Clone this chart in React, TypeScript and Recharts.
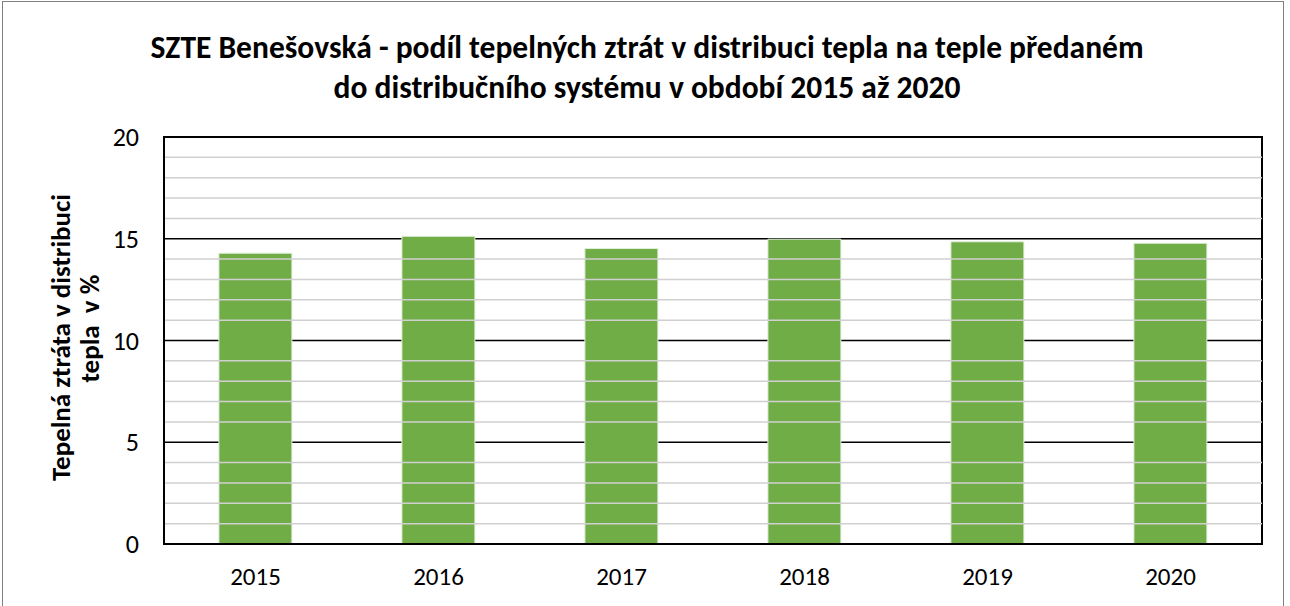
import React from 'react';
import { BarChart, Bar, XAxis, YAxis, CartesianGrid, ReferenceLine, ReferenceArea, Label } from 'recharts';

const years = ['2015', '2016', '2017', '2018', '2019', '2020'];
const lossPct = [14.29, 15.12, 14.52, 14.98, 14.85, 14.78];
const majorTicks = [0, 5, 10, 15, 20];
const minorTicks = [1, 2, 3, 4, 6, 7, 8, 9, 11, 12, 13, 14, 16, 17, 18, 19];
const titleLines = [
  'SZTE Benešovská - podíl tepelných ztrát v distribuci tepla na teple předaném',
  'do distribučního systému v období 2015 až 2020',
];
const yLabelLines = ['Tepelná ztráta v distribuci', 'tepla  v %'];

const data = years.map((y, i) => ({ year: y, value: lossPct[i] }));

const FONT = 'Carlito, Calibri, Lato, "Open Sans", sans-serif';

const YLabel = (props: any) => {
  const vb = props.viewBox || {};
  const cy = (vb.y ?? 137) + (vb.height ?? 407) / 2;
  return (
    <g>
      <text
        x={60}
        y={cy - 3}
        transform={`rotate(-90, 60, ${cy - 3})`}
        textAnchor="middle"
        dominantBaseline="central"
        fontFamily={FONT}
        fontWeight="bold"
        fontSize={27}
        fill="#000"
      >
        {yLabelLines[0]}
      </text>
      <text
        x={89}
        y={cy - 12}
        transform={`rotate(-90, 89, ${cy - 12})`}
        textAnchor="middle"
        dominantBaseline="central"
        fontFamily={FONT}
        fontWeight="bold"
        fontSize={27}
        fill="#000"
        style={{ whiteSpace: 'pre' }}
      >
        {yLabelLines[1]}
      </text>
    </g>
  );
};

export default function App() {
  return (
    <div style={{ position: 'absolute', left: 0, top: 0, width: 1290, height: 606, background: '#fff', fontFamily: FONT }}>
      <div
        style={{
          position: 'absolute',
          left: 2,
          top: 1,
          width: 1282,
          height: 620,
          border: '1px solid #7f7f7f',
          boxSizing: 'border-box',
        }}
      />
      <div
        style={{
          position: 'absolute',
          left: 0,
          top: 27,
          width: 1294,
          textAlign: 'center',
          fontWeight: 'bold',
          fontSize: 31.5,
          lineHeight: '40px',
          color: '#000',
          fontFamily: FONT,
        }}
      >
        <div>{titleLines[0]}</div>
        <div>{titleLines[1]}</div>
      </div>
      <BarChart
        width={1290}
        height={606}
        data={data}
        margin={{ top: 137, right: 28, bottom: 0, left: 0 }}
        barCategoryGap="30%"
        style={{ position: 'absolute', left: 0, top: 0 }}
      >
        {minorTicks.map((v) => (
          <ReferenceLine key={v} y={v} stroke="#d0d0d0" strokeWidth={1.5} />
        ))}
        <CartesianGrid vertical={false} stroke="#000" strokeWidth={1.3} />
        <XAxis
          dataKey="year"
          tickLine={false}
          axisLine={{ stroke: '#000', strokeWidth: 2 }}
          height={62}
          tickMargin={17}
          tick={{ fontSize: 25, fill: '#000', fontFamily: FONT }}
        />
        <YAxis
          domain={[0, 20]}
          ticks={majorTicks}
          width={164}
          tickLine={false}
          axisLine={{ stroke: '#000', strokeWidth: 2 }}
          tickMargin={19}
          tick={{ fontSize: 26, fill: '#000', fontFamily: FONT }}
          interval={0}
        >
          <Label content={<YLabel />} />
        </YAxis>
        <Bar dataKey="value" fill="#70ad47" stroke="#e2efda" strokeWidth={1} isAnimationActive={false} />
        <ReferenceArea y1={0} y2={20} stroke="#000" strokeWidth={2} fill="none" fillOpacity={0} />
      </BarChart>
    </div>
  );
}
